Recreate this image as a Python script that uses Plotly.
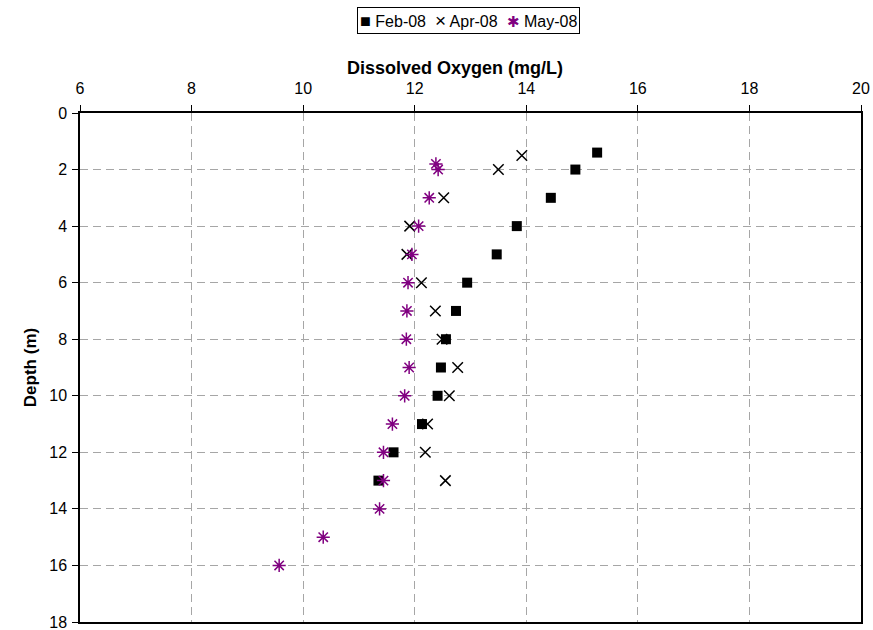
import plotly.graph_objects as go

# Feb-08
feb_do = [15.27, 14.88, 14.44, 13.83, 13.47, 12.94, 12.74, 12.56, 12.47, 12.41, 12.13, 11.62, 11.35]
feb_depth = [1.4, 2, 3, 4, 5, 6, 7, 8, 9, 10, 11, 12, 13]
# Apr-08
apr_do = [13.92, 13.50, 12.52, 11.91, 11.86, 12.12, 12.37, 12.49, 12.77, 12.62, 12.23, 12.19, 12.55]
apr_depth = [1.5, 2, 3, 4, 5, 6, 7, 8, 9, 10, 11, 12, 13]
# May-08
may_do = [12.38, 12.42, 12.26, 12.07, 11.95, 11.88, 11.86, 11.85, 11.90, 11.82, 11.60, 11.44, 11.44, 11.37, 10.36, 9.57]
may_depth = [1.8, 2.0, 3, 4, 5, 6, 7, 8, 9, 10, 11, 12, 13, 14, 15, 16]

x_ticks = [6, 8, 10, 12, 14, 16, 18, 20]
y_ticks = [0, 2, 4, 6, 8, 10, 12, 14, 16, 18]

FONT = "Liberation Sans, Arial, sans-serif"
PURPLE = "#800080"

fig = go.Figure()
fig.add_trace(go.Scatter(x=feb_do, y=feb_depth, mode="markers", name="Feb-08",
                         marker=dict(symbol="square", size=10, color="black")))
fig.add_trace(go.Scatter(x=apr_do, y=apr_depth, mode="markers", name="Apr-08",
                         marker=dict(symbol="x-thin-open", size=10.5, color="black",
                                     line=dict(color="black", width=1.5))))
fig.add_trace(go.Scatter(x=may_do, y=may_depth, mode="markers", name="May-08",
                         marker=dict(symbol="asterisk-open", size=11, color=PURPLE,
                                     line=dict(color=PURPLE, width=1.5))))

# compact legend box (Excel style) built from the trace names
legend_text = (
    "<span style='font-size:18px'>■</span> " + fig.data[0].name +
    "  <span style='font-size:19px'>×</span> " + fig.data[1].name +
    "  <span style='font-size:15px;color:" + PURPLE + "'>✱</span> " + fig.data[2].name
)

fig.update_layout(
    width=873, height=630,
    margin=dict(l=80, r=12, t=113, b=8),
    paper_bgcolor="white", plot_bgcolor="white",
    font=dict(family=FONT, size=16, color="black"),
    showlegend=False,
    annotations=[
        dict(text=legend_text, xref="paper", yref="paper", x=0.4976, y=1.182,
             xanchor="center", yanchor="middle", showarrow=False,
             bordercolor="black", borderwidth=1, borderpad=2,
             font=dict(family=FONT, size=16, color="black")),
        dict(text="<b>Dissolved Oxygen (mg/L)</b>", xref="paper", yref="paper",
             x=0.480, y=1.088, xanchor="center", yanchor="middle", showarrow=False,
             font=dict(family=FONT, size=18, color="black")),
    ],
)

fig.update_xaxes(
    range=[6, 20], tickvals=x_ticks, side="top", automargin=False,
    showgrid=True, gridcolor="#a6a6a6", griddash="8px,5px", gridwidth=1,
    showline=True, linecolor="black", linewidth=1.5, mirror=True,
    ticks="outside", ticklen=6, tickcolor="black", ticklabelstandoff=5,
    tickfont=dict(size=16), ticklabeloverflow="allow",
    zeroline=False,
)
fig.update_yaxes(
    range=[18, 0], tickvals=y_ticks, automargin=False,
    showgrid=True, gridcolor="#a6a6a6", griddash="8px,5px", gridwidth=1,
    showline=True, linecolor="black", linewidth=1.5, mirror=True,
    ticks="outside", ticklen=6, tickcolor="black", ticklabelstandoff=2,
    tickfont=dict(size=16), ticklabeloverflow="allow",
    zeroline=False,
    title=dict(text="<b>Depth (m)</b>", font=dict(size=17), standoff=8),
)

fig.write_html("out.html", config={"displayModeBar": False},
               post_script="document.body.style.margin='0';")
